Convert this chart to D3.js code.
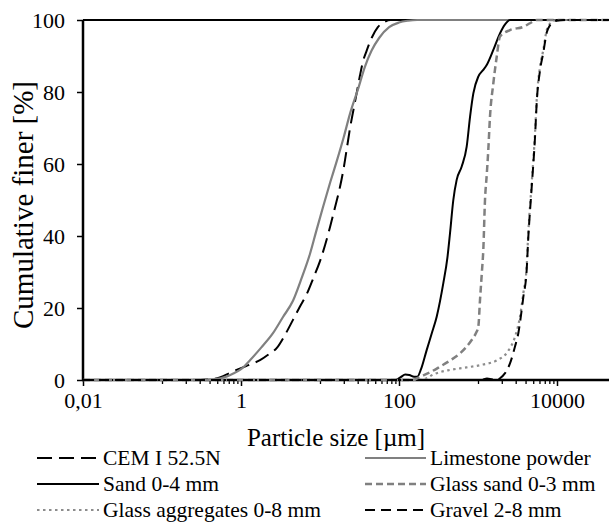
<!DOCTYPE html>
<html><head><meta charset="utf-8">
<script src="https://cdn.jsdelivr.net/npm/d3@7"></script>
<style>
body{margin:0;background:#fff}
svg{display:block;background:#fff}
text{font-family:"Liberation Serif","Times New Roman",serif;fill:#000}
</style>
</head><body>
<svg id="chart" width="609" height="530"></svg>
<script>
// ---- data: [particle size µm, cumulative finer %] ----
const cem = [[0.01,0],[0.3,0],[0.45,0.3],[0.55,0.8],[0.73,2],[1,3.3],[1.3,4.3],[1.74,5.5],[2.2,7],[2.86,9],[3.6,12.5],[4.55,16.7],[5.6,20.5],[6.84,24],[8.3,28.5],[10,33],[11.6,37.5],[13.4,42.5],[15.5,48],[17.9,53.6],[20,59],[22,64.7],[24,70],[26.5,75],[29,79.5],[32,84.5],[35,88.5],[39,91.5],[45,95],[54,98],[66,99.5],[78,100],[1e6,100]];
const limestone = [[0.01,0],[0.3,0],[0.45,0.2],[0.55,0.5],[0.665,1],[0.8,1.8],[1,3],[1.3,5.5],[1.8,9],[2.54,13],[3.4,17.5],[4.55,22],[5.9,28.5],[7.46,35],[9,41.5],[10.9,48],[13.5,55],[16.4,61],[20,67.5],[24,74],[30,80.5],[37,87],[45,91.5],[56,95],[75,98],[100,99.3],[130,99.8],[170,100],[1e6,100]];
const sand = [[0.01,0],[90,0],[105,0.8],[120,1.5],[135,1.4],[155,0.9],[170,0.9],[190,3],[224,8.3],[260,13],[300,17.6],[364,26.9],[410,34],[442,40.7],[487,50],[537,55.6],[622,59.3],[719,64.8],[793,73.1],[873,79.6],[1009,84.3],[1150,86],[1288,87.5],[1563,91.7],[1898,96.3],[2200,98.8],[2541,100],[1e6,100]];
const glassSand = [[0.01,0],[150,0],[184,0.9],[250,2.2],[330,3.7],[450,5.5],[592,7.4],[700,9],[832,11.1],[940,13],[1009,14.8],[1060,22.2],[1120,30],[1167,36.1],[1226,50],[1290,57],[1350,63.9],[1418,73.1],[1563,82.4],[1726,89.8],[1898,95.4],[2541,97.2],[3743,98.1],[4550,99.1],[5530,100],[1e6,100]];
const glassAgg = [[0.01,0],[170,0],[220,0.4],[269,1.5],[330,2.2],[442,2.8],[720,3.5],[1160,4.3],[1750,5.5],[2400,8],[2940,12],[3400,17.6],[3745,24],[4130,31.5],[4330,40.7],[4780,54.6],[5270,68.5],[5535,77.8],[6095,87],[6715,91.7],[7410,97.2],[8150,99],[9900,100],[1e6,100]];
const gravel = [[0.01,0],[1100,0],[1300,0.4],[1500,0.2],[1750,0.1],[1900,0.5],[2200,1.9],[2540,4.6],[2940,9.3],[3240,13],[3570,19.4],[3745,23],[4130,30.5],[4330,39.5],[4780,53.5],[5270,67.5],[5535,77],[6095,86],[6715,91],[7410,96.5],[8150,98.5],[9900,99.8],[12000,100],[1e6,100]];

const seriesNames = ["CEM I 52.5N","Limestone powder","Sand 0-4 mm","Glass sand 0-3 mm","Glass aggregates 0-8 mm","Gravel 2-8 mm"];
const xMajorTicks = [0.01, 1, 100, 10000];
const xMajorLabels = ["0,01", "1", "100", "10000"];
const xMinorDecades = [0.1, 10, 1000, 100000];
const yTicks = [0, 20, 40, 60, 80, 100];
const xTitle = "Particle size [µm]";
const yTitle = "Cumulative finer [%]";

// ---- layout ----
const svg = d3.select("#chart");
const W = 609, H = 530;
const mLeft = 83, mTop = 20, mBottom = 380, decade = 79;
const x = d3.scaleLog().domain([0.01, 1e6]).range([mLeft, mLeft + 8 * decade]);
const y = d3.scaleLinear().domain([0, 100]).range([mBottom, mTop]);

const styles = [
  {stroke:"#000", dash:"15,7", w:2},
  {stroke:"#808080", dash:null, w:2.2},
  {stroke:"#000", dash:null, w:2},
  {stroke:"#808080", dash:"7,4", w:2.5},
  {stroke:"#8c8c8c", dash:"2.5,3.5", w:2.2},
  {stroke:"#000", dash:"10,6", w:2}
];
const data = [cem, limestone, sand, glassSand, glassAgg, gravel];

svg.append("defs").append("clipPath").attr("id","plot")
  .append("rect").attr("x", mLeft).attr("y", mTop - 5).attr("width", W - mLeft).attr("height", mBottom - mTop + 10);

// top line at 100
svg.append("line").attr("x1", mLeft).attr("x2", W).attr("y1", y(100)).attr("y2", y(100))
  .attr("stroke", "#000").attr("stroke-width", 2);

// x axis minor ticks
const minorVals = [];
xMinorDecades.forEach(d => { for (let k = 1; k <= 9; k++) minorVals.push(d * k); });
const gxMinor = svg.append("g").attr("transform", `translate(0,${mBottom})`)
  .call(d3.axisBottom(x).tickValues(minorVals.filter(v => x(v) <= W)).tickSize(4).tickFormat(""));
gxMinor.select(".domain").remove();
gxMinor.selectAll("line").attr("stroke", "#000").attr("stroke-width", 1.3);

const gx = svg.append("g").attr("transform", `translate(0,${mBottom})`)
  .call(d3.axisBottom(x).tickValues(xMajorTicks).tickSize(6).tickPadding(6)
    .tickFormat((d, i) => xMajorLabels[i]));
gx.select(".domain").remove();
gx.selectAll("line").attr("stroke", "#000").attr("stroke-width", 1.5);
gx.selectAll("text").style("font-size", "22px").attr("fill", "#000");

svg.append("line").attr("x1", mLeft - 1).attr("x2", W).attr("y1", mBottom).attr("y2", mBottom)
  .attr("stroke", "#000").attr("stroke-width", 2.5);

// y axis
const gy = svg.append("g").attr("transform", `translate(${mLeft},0)`)
  .call(d3.axisLeft(y).tickValues(yTicks).tickSize(6).tickPadding(12));
gy.select(".domain").attr("stroke", "#000").attr("stroke-width", 2.5).attr("d", `M0,${mTop}V${mBottom}`);
gy.selectAll("line").attr("stroke", "#000").attr("stroke-width", 1.5);
gy.selectAll("text").style("font-size", "22px").attr("fill", "#000");

// curves
const line = d3.line().x(d => x(d[0])).y(d => y(d[1])).curve(d3.curveMonotoneX);
const gc = svg.append("g").attr("clip-path", "url(#plot)");
data.forEach((s, i) => {
  gc.append("path").attr("d", line(s)).attr("fill", "none")
    .attr("stroke", styles[i].stroke).attr("stroke-width", styles[i].w)
    .attr("stroke-dasharray", styles[i].dash);
});

// titles
svg.append("text").attr("x", 336).attr("y", 446).attr("text-anchor", "middle")
  .style("font-size", "25px").text(xTitle);
svg.append("text").attr("transform", "translate(33,205) rotate(-90)").attr("text-anchor", "middle")
  .style("font-size", "29px").text(yTitle);

// legend
const legRows = [458, 484, 510];
const legCols = [{x1:37, x2:99, tx:103}, {x1:365, x2:426, tx:430}];
seriesNames.forEach((name, i) => {
  const c = legCols[i % 2], ry = legRows[Math.floor(i / 2)];
  svg.append("line").attr("x1", c.x1).attr("x2", c.x2).attr("y1", ry).attr("y2", ry)
    .attr("stroke", styles[i].stroke).attr("stroke-width", styles[i].w)
    .attr("stroke-dasharray", styles[i].dash);
  svg.append("text").attr("x", c.tx).attr("y", ry).attr("dy", "0.33em")
    .style("font-size", "21.5px").text(name);
});
</script>
</body></html>
